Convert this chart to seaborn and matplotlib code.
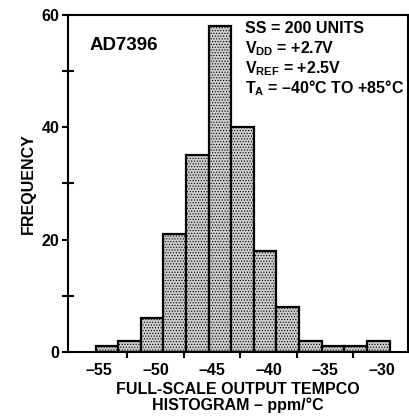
import numpy as np
import pandas as pd
import matplotlib
matplotlib.use("Agg")
import matplotlib.pyplot as plt
from matplotlib.ticker import FixedLocator, FixedFormatter
import seaborn as sns

# -- Data ----------------------------------------------------------------------
bin_edges = [-55.3, -53.3, -51.3, -49.3, -47.3, -45.3, -43.3, -41.3,
             -39.3, -37.3, -35.3, -33.3, -31.3, -29.3]
counts = [1, 2, 6, 21, 35, 58, 40, 18, 8, 2, 1, 1, 2]
xtick_values = [-55, -50, -45, -40, -35, -30]
xtick_marks = [-52.5, -47.5, -42.5, -37.5, -32.5]
ytick_values = [0, 20, 40, 60]
ytick_minor = [10, 30, 50]
notes = ["SS = 200 UNITS",
         r"V$_{\mathrm{DD}}$ = +2.7V",
         r"V$_{\mathrm{REF}}$ = +2.5V",
         "T$_{\\mathrm{A}}$ = \u201340\u00b0C TO +85\u00b0C"]

centers = [(a + b) / 2 for a, b in zip(bin_edges[:-1], bin_edges[1:])]
df = pd.DataFrame({"tempco": centers, "n": counts})

# -- Style ---------------------------------------------------------------------
sns.set_style("white")
plt.rcParams["font.family"] = ["Liberation Sans", "DejaVu Sans"]
plt.rcParams["font.weight"] = "bold"
plt.rcParams["text.color"] = "black"
plt.rcParams["xtick.color"] = "black"
plt.rcParams["ytick.color"] = "black"
plt.rcParams["axes.labelcolor"] = "black"
plt.rcParams["mathtext.fontset"] = "custom"
plt.rcParams["mathtext.rm"] = "Liberation Sans:bold"
plt.rcParams["mathtext.default"] = "rm"
plt.rcParams["hatch.linewidth"] = 0.5

fig = plt.figure(figsize=(4.09, 4.17), dpi=100)
ax = fig.add_axes([0.166, 0.156, 0.832, 0.808])

sns.histplot(data=df, x="tempco", weights="n", bins=bin_edges, ax=ax,
             color="#cccccc", alpha=1, edgecolor="black", linewidth=1.6)
for p in ax.patches:
    p.set_hatch("......")

ax.set_xlim(-57.75, -27.65)
ax.set_ylim(0, 60)

ax.xaxis.set_major_locator(FixedLocator(xtick_values))
ax.xaxis.set_major_formatter(FixedFormatter([f"\u2013{abs(v)}" for v in xtick_values]))
ax.xaxis.set_minor_locator(FixedLocator(xtick_marks))
ax.tick_params(axis="x", which="major", length=0, pad=8, labelsize=11.5)
ax.tick_params(axis="x", which="minor", bottom=True, direction="inout",
               length=8, width=1.5)

ax.yaxis.set_major_locator(FixedLocator(ytick_values))
ax.yaxis.set_minor_locator(FixedLocator(ytick_minor))
ax.tick_params(axis="y", which="major", left=True, direction="out",
               length=4, width=1.5, pad=2, labelsize=11.5)
ax.tick_params(axis="y", which="minor", left=True, direction="inout",
               length=8, width=1.5)

for s in ax.spines.values():
    s.set_linewidth(1.5)
    s.set_color("black")

ax.set_ylabel("FREQUENCY", fontsize=11.5, fontweight="bold", labelpad=4)
ax.set_xlabel("FULL-SCALE OUTPUT TEMPCO\nHISTOGRAM \u2013 ppm/\u00b0C",
              fontsize=11.5, fontweight="bold", labelpad=3, linespacing=1.0)

ax.text(0.065, 0.91, "AD7396", transform=ax.transAxes, fontsize=13.5,
        fontweight="bold", va="center", ha="left")
for i, line in enumerate(notes):
    ax.text(0.52, 0.96 - i * 0.059, line, transform=ax.transAxes,
            fontsize=11.5, fontweight="bold", va="center", ha="left")

fig.savefig("out.png", dpi=100)
